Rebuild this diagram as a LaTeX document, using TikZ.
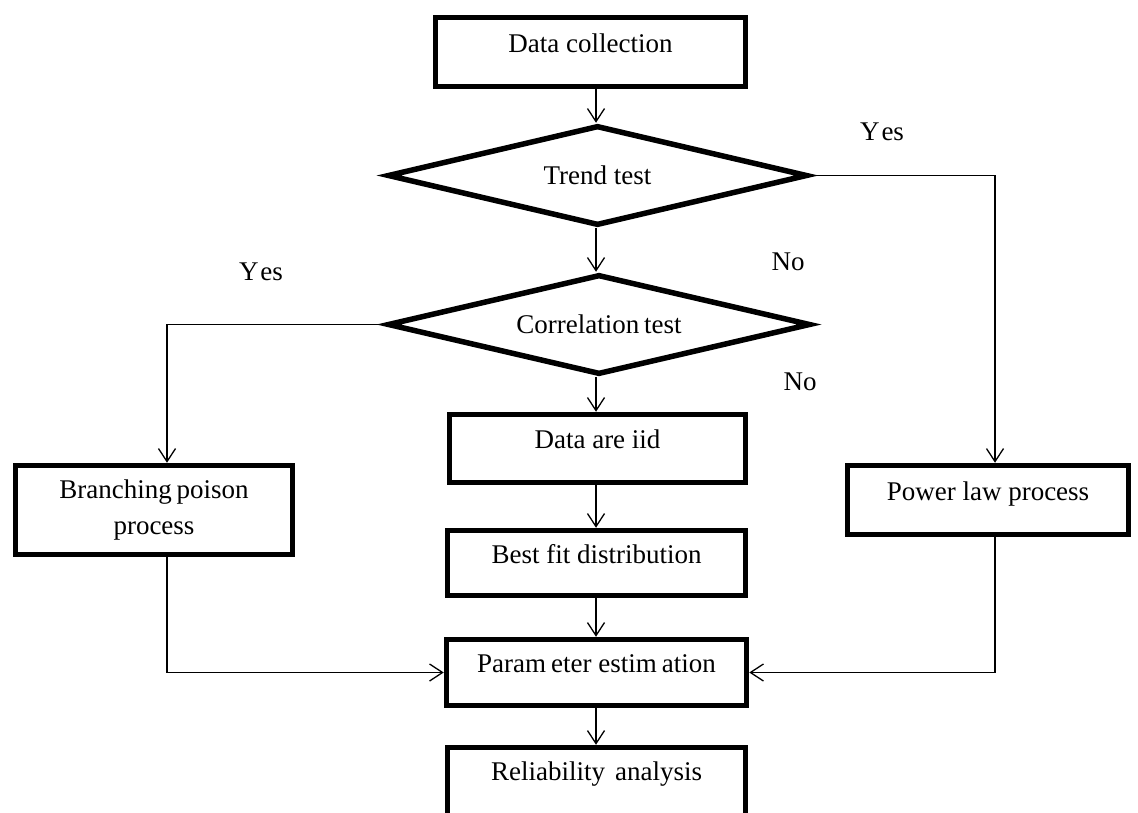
\documentclass[tikz,border=0pt]{standalone}
\usepackage{fontspec}
\setmainfont{Liberation Serif}
\usetikzlibrary{shapes.geometric,arrows.meta}
\tikzset{
  every node/.style={font=\fontsize{27}{36}\selectfont},
  procbox/.style={draw, line width=5.5pt, rectangle, inner sep=0pt, text height=12pt, text depth=12pt},
  decbox/.style={draw, line width=5.5pt, diamond, inner sep=0pt, aspect=4},
  conn/.style={line width=1.3pt, -{Straight Barb[length=13pt,width=17pt,line width=1.3pt]}},
  lbl/.style={inner sep=0pt}
}
\begin{document}
\begin{tikzpicture}[x=1pt,y=-1pt]
\useasboundingbox[fill=white] (0,0) rectangle (1138,812);

\node[procbox, minimum width=310pt, minimum height=69pt] (dc) at (590.5,52) {Data collection};
\node[decbox, minimum width=420pt, minimum height=100pt] (trend) at (597.5,175.5) {Trend test};
\node[decbox, minimum width=423pt, minimum height=100pt] (corr) at (599,324.5) {Correlation\kern-2pt\ test};
\node[procbox, minimum width=296pt, minimum height=68pt] (iid) at (597.5,448.5) {Data are iid};
\node[procbox, minimum width=298pt, minimum height=65pt] (bf) at (596.5,563) {Best fit distribution};
\node[procbox, minimum width=300pt, minimum height=66pt] (pe) at (596.5,672.5) {Param\kern5pt eter estim\kern5pt ation};
\node[procbox, minimum width=298pt, minimum height=68pt, text depth=15pt] (ra) at (596.5,781.5) {Reliability\kern10pt analysis};
\node[draw, line width=5.5pt, rectangle, inner sep=0pt, align=center, minimum width=277pt, minimum height=89pt] (bp) at (154,510) {Branching\kern-2pt\ poison\\process};
\node[procbox, minimum width=281pt, minimum height=69pt] (pl) at (988,500) {Power law process};

\coordinate (cx) at (596,0);
\coordinate (cl) at (167,324.5);
\coordinate (cr) at (995,175.5);

\draw[conn] (cx |- dc.south) -- (cx |- trend.north);
\draw[conn] (cx |- trend.south) -- (cx |- corr.north);
\draw[conn] (cx |- corr.south) -- (cx |- iid.north);
\draw[conn] (cx |- iid.south) -- (cx |- bf.north);
\draw[conn] (cx |- bf.south) -- (cx |- pe.north);
\draw[conn] (cx |- pe.south) -- (cx |- ra.north);

\draw[conn] (trend.east) -- (cr) -- (cr |- pl.north);
\draw[conn] (corr.west) -- (cl) -- (cl |- bp.north);
\draw[conn] (cl |- bp.south) -- (cl |- pe.west) -- (pe.west);
\draw[conn] (cr |- pl.south) -- (cr |- pe.east) -- (pe.east);

\node[lbl] (yes1) at (882,132) {Y\kern2pt es};
\node[lbl] (yes2) at (261,272) {Y\kern2pt es};
\node[lbl] (no1) at (788,262) {No};
\node[lbl] (no2) at (800,382) {No};
\end{tikzpicture}
\end{document}
